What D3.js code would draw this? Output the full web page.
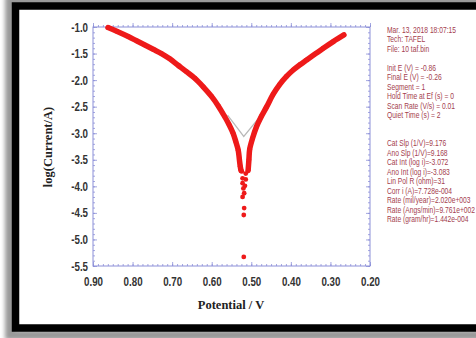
<!DOCTYPE html>
<html>
<head>
<meta charset="utf-8">
<script src="https://cdn.jsdelivr.net/npm/d3@7"></script>
<style>
  html, body { margin: 0; padding: 0; background: #fff; }
  svg { display: block; }
</style>
</head>
<body>
<svg id="chart" width="476" height="338"></svg>
<script>
// Tafel plot, values
const xTicks = [0.90, 0.80, 0.70, 0.60, 0.50, 0.40, 0.30, 0.20];
const yTicks = [-1.0, -1.5, -2.0, -2.5, -3.0, -3.5, -4.0, -4.5, -5.0, -5.5];

// cathodic branch (left side of the V)
const catPotential = [0.862, 0.840, 0.811, 0.790, 0.769, 0.748, 0.727, 0.706, 0.685, 0.664,
  0.642, 0.621, 0.600, 0.583, 0.567, 0.556, 0.546, 0.539, 0.533, 0.530, 0.528, 0.526];
const catLogI = [-1.01, -1.08, -1.18, -1.26, -1.34, -1.42, -1.50, -1.60, -1.72, -1.84,
  -1.97, -2.13, -2.31, -2.49, -2.69, -2.84, -3.00, -3.16, -3.32, -3.50, -3.62, -3.70];

// anodic branch (right side)
const anoPotential = [0.508, 0.506, 0.504, 0.497, 0.487, 0.475, 0.461, 0.445, 0.428, 0.411,
  0.394, 0.377, 0.360, 0.339, 0.318, 0.292, 0.266];
const anoLogI = [-3.70, -3.50, -3.30, -3.10, -2.88, -2.69, -2.50, -2.27, -2.08, -1.93,
  -1.81, -1.71, -1.62, -1.51, -1.40, -1.27, -1.15];

// scattered points near the corrosion potential
const tipPotential = [0.524, 0.514, 0.522, 0.514, 0.522, 0.516, 0.520, 0.518, 0.522, 0.518, 0.519, 0.519];
const tipLogI = [-3.72, -3.76, -3.85, -3.87, -3.94, -3.99, -4.04, -4.13, -4.20, -4.41, -4.54, -5.33];

// Tafel fit lines
const fitPotential = [0.560, 0.519, 0.475];
const fitLogI = [-2.66, -3.06, -2.66];

const infoLines = [
  'Mar. 13, 2018   18:07:15', 'Tech: TAFEL', 'File: 10 taf.bin', '',
  'Init E (V) = -0.86', 'Final E (V) = -0.26', 'Segment = 1', 'Hold Time at Ef (s) = 0',
  'Scan Rate (V/s) = 0.01', 'Quiet Time (s) = 2', '', '',
  'Cat Slp (1/V)=9.176', 'Ano Slp (1/V)=9.168', 'Cat Int (log i)=-3.072', 'Ano Int (log i)=-3.083',
  'Lin Pol R (ohm)=31', 'Corr i (A)=7.728e-004', 'Rate (mil/year)=2.020e+003',
  'Rate (Angs/min)=9.761e+002', 'Rate (gram/hr)=1.442e-004'
];

const svg = d3.select('#chart');

// frame with shadow
const defs = svg.append('defs');
defs.append('filter').attr('id', 'blur')
  .attr('x', '-10%').attr('y', '-10%').attr('width', '120%').attr('height', '120%')
  .append('feGaussianBlur').attr('stdDeviation', 2);

svg.append('rect').attr('x', 10).attr('y', 1).attr('width', 480).attr('height', 334)
  .attr('fill', 'none').attr('stroke', '#999').attr('stroke-width', 10)
  .attr('filter', 'url(#blur)');
svg.append('rect').attr('x', 15.5).attr('y', 6).attr('width', 480).attr('height', 322)
  .attr('fill', '#fff').attr('stroke', '#000').attr('stroke-width', 7.5);

const plotL = 93, plotR = 370, plotT = 27, plotB = 266;

const x = d3.scaleLinear().domain([0.9, 0.2]).range([plotL, plotR]);
const y = d3.scaleLinear().domain([-1.0, -5.5]).range([plotT, plotB]);

const axisColor = '#8c8fd8';
const g = svg.append('g');

// minor + major ticks on all four sides
const xMinor = d3.range(0, 57).map(i => 0.2 + i * 0.0125);
const yMinor = d3.range(0, 46).map(i => -1.0 - i * 0.1);

function styleAxis(sel) {
  sel.select('.domain').remove();
  sel.selectAll('line').attr('stroke', axisColor).attr('stroke-width', 0.8);
  sel.selectAll('text').remove();
}

g.append('g').attr('transform', `translate(0,${plotB})`)
  .call(d3.axisTop(x).tickValues(xMinor).tickSize(2)).call(styleAxis);
g.append('g').attr('transform', `translate(0,${plotB})`)
  .call(d3.axisTop(x).tickValues(xTicks).tickSize(4)).call(styleAxis);
g.append('g').attr('transform', `translate(0,${plotT})`)
  .call(d3.axisTop(x).tickValues(xMinor).tickSize(2)).call(styleAxis);
g.append('g').attr('transform', `translate(0,${plotT})`)
  .call(d3.axisTop(x).tickValues(xTicks).tickSize(4)).call(styleAxis);
g.append('g').attr('transform', `translate(${plotL},0)`)
  .call(d3.axisRight(y).tickValues(yMinor).tickSize(2)).call(styleAxis);
g.append('g').attr('transform', `translate(${plotL},0)`)
  .call(d3.axisRight(y).tickValues(yTicks).tickSize(4)).call(styleAxis);
g.append('g').attr('transform', `translate(${plotR},0)`)
  .call(d3.axisLeft(y).tickValues(yMinor).tickSize(2)).call(styleAxis);
g.append('g').attr('transform', `translate(${plotR},0)`)
  .call(d3.axisLeft(y).tickValues(yTicks).tickSize(4)).call(styleAxis);

g.append('rect').attr('x', plotL).attr('y', plotT)
  .attr('width', plotR - plotL).attr('height', plotB - plotT)
  .attr('fill', 'none').attr('stroke', axisColor).attr('stroke-width', 1);

// tick labels (condensed look via horizontal squeeze)
const tickFont = '"Liberation Sans", Arial, sans-serif';
const xLab = svg.append('g').attr('transform', `translate(0,${plotB})`)
  .call(d3.axisBottom(x).tickValues(xTicks).tickSize(0).tickPadding(11).tickFormat(d3.format('.2f')));
xLab.select('.domain').remove();
xLab.selectAll('text').attr('font-family', tickFont).attr('font-size', 12.5)
  .attr('font-weight', 'bold').attr('fill', '#333').attr('transform', 'scale(0.78,1)');

const yLab = svg.append('g').attr('transform', `translate(${plotL - 5},0)`)
  .call(d3.axisLeft(y).tickValues(yTicks).tickSize(0).tickPadding(0));
yLab.select('.domain').remove();
yLab.selectAll('text').attr('font-family', tickFont).attr('font-size', 12.5)
  .attr('font-weight', 'bold').attr('fill', '#333').attr('transform', 'scale(0.78,1)')
  .text(d => d.toFixed(1));

// axis titles
svg.append('text').attr('x', 231).attr('y', 309).attr('text-anchor', 'middle')
  .attr('font-family', '"Liberation Serif", "Times New Roman", serif')
  .attr('font-size', 12.5).attr('font-weight', 'bold').attr('fill', '#222')
  .text('Potential / V');
svg.append('text').attr('transform', 'translate(52,147) rotate(-90)').attr('text-anchor', 'middle')
  .attr('font-family', '"Liberation Serif", "Times New Roman", serif')
  .attr('font-size', 12.5).attr('font-weight', 'bold').attr('fill', '#222')
  .text('log(Current/A)');

// fit lines
const fitData = fitPotential.map((p, i) => [p, fitLogI[i]]);
svg.append('path').datum(fitData)
  .attr('d', d3.line().x(d => x(d[0])).y(d => y(d[1])))
  .attr('fill', 'none').attr('stroke', '#b8b8b8').attr('stroke-width', 1.2);

// data
const red = '#ee1a1a';
const catData = catPotential.map((p, i) => [p, catLogI[i]]);
const anoData = anoPotential.map((p, i) => [p, anoLogI[i]]);
const tipData = tipPotential.map((p, i) => [p, tipLogI[i]]);

const line = d3.line().x(d => x(d[0])).y(d => y(d[1])).curve(d3.curveCatmullRom);
[catData, anoData].forEach(data => {
  svg.append('path').datum(data).attr('d', line)
    .attr('fill', 'none').attr('stroke', red).attr('stroke-width', 5.5)
    .attr('stroke-linecap', 'round');
});

svg.append('g').selectAll('circle')
  .data(catData.concat(anoData, tipData))
  .join('circle')
  .attr('cx', d => x(d[0])).attr('cy', d => y(d[1])).attr('r', 2.4)
  .attr('fill', red);

// info text on the right
svg.append('g').selectAll('text')
  .data(infoLines)
  .join('text')
  .attr('transform', (d, i) => `translate(387,${33 + i * 9.45}) scale(0.8,1)`)
  .attr('font-family', tickFont).attr('font-size', 8.4)
  .attr('fill', '#a4404e')
  .text(d => d);
</script>
</body>
</html>
